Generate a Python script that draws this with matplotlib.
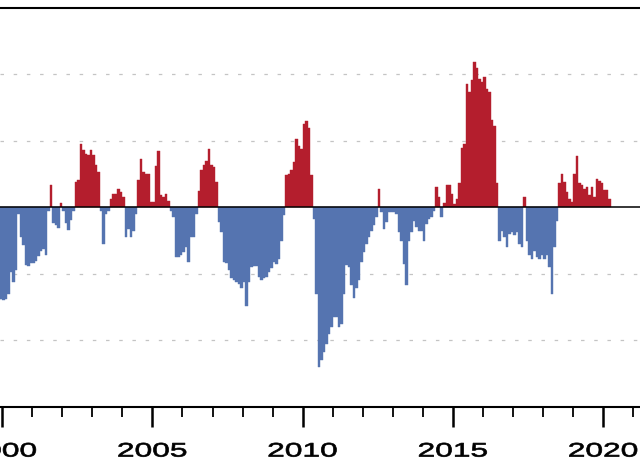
import matplotlib
matplotlib.use('Agg')
import matplotlib.pyplot as plt
import numpy as np
from matplotlib.patheffects import AbstractPathEffect
from matplotlib.transforms import Affine2D
from matplotlib.ticker import MultipleLocator

# indice mensuel, de nov. 1999 a mars 2020
v1999 = [-1.40, -1.38]  # nov, dec
v2000 = [-1.40, -1.38, -1.30, -0.97, -1.12, -0.95, -0.10, -0.45, -0.57, -0.87, -0.88, -0.84]
v2001 = [-0.83, -0.80, -0.73, -0.65, -0.62, -0.72, -0.05, 0.33, -0.24, -0.26, -0.31, 0.07]
v2002 = [-0.05, -0.24, -0.34, -0.19, -0.05, 0.38, 0.41, 0.96, 0.86, 0.81, 0.79, 0.86]
v2003 = [0.79, 0.63, 0.53, -0.06, -0.55, -0.10, -0.05, 0.13, 0.20, 0.20, 0.28, 0.23]
v2004 = [0.16, -0.45, -0.32, -0.45, -0.35, -0.10, 0.41, 0.73, 0.53, 0.50, 0.50, 0.08]
v2005 = [0.08, 0.62, 0.85, 0.18, 0.15, 0.20, 0.10, -0.05, -0.15, -0.75, -0.75, -0.72]
v2006 = [-0.67, -0.60, -0.82, -0.45, -0.45, -0.10, 0.25, 0.56, 0.63, 0.70, 0.88, 0.63]
v2007 = [0.60, 0.38, -0.22, -0.37, -0.82, -0.84, -0.95, -1.07, -1.10, -1.12, -1.15, -1.22]
v2008 = [-1.12, -1.48, -1.12, -0.90, -0.88, -0.88, -1.05, -1.10, -1.07, -1.05, -0.97, -0.92]
v2009 = [-0.82, -0.85, -0.77, -0.50, -0.12, 0.48, 0.50, 0.56, 0.68, 1.03, 0.93, 0.88]
v2010 = [1.26, 1.30, 1.20, 0.48, -0.17, -1.30, -2.40, -2.30, -2.18, -2.05, -1.90, -1.80]
v2011 = [-1.65, -1.65, -1.80, -1.75, -1.30, -0.87, -0.90, -1.17, -1.37, -1.22, -1.10, -0.82]
v2012 = [-0.67, -0.55, -0.45, -0.35, -0.27, -0.15, 0.28, -0.07, -0.32, -0.22, -0.07, -0.07]
v2013 = [-0.07, -0.10, -0.37, -0.50, -0.85, -1.17, -0.50, -0.37, -0.20, -0.30, -0.35, -0.35]
v2014 = [-0.50, -0.25, -0.17, -0.15, -0.05, 0.31, 0.16, -0.15, 0.06, 0.33, 0.33, 0.20]
v2015 = [0.05, 0.13, 0.36, 0.90, 0.96, 1.86, 1.73, 1.91, 2.19, 2.09, 1.93, 1.88]
v2016 = [1.96, 1.78, 1.73, 1.31, 1.23, 0.36, -0.50, -0.35, -0.45, -0.60, -0.40, -0.37]
v2017 = [-0.42, -0.37, -0.55, -0.60, 0.16, -0.50, -0.72, -0.77, -0.65, -0.75, -0.77, -0.72]
v2018 = [-0.77, -0.72, -0.90, -1.30, -0.60, -0.20, 0.36, 0.50, 0.38, 0.23, 0.13, 0.08]
v2019 = [0.50, 0.77, 0.36, 0.33, 0.28, 0.30, 0.18, 0.30, 0.15, 0.43, 0.40, 0.36]
v2020 = [0.26, 0.26, 0.13]

annees_labels = [2000, 2005, 2010, 2015, 2020]
grille = [-2, -1, 1, 2]

rouge = '#B41E2D'
bleu = '#5574B0'


class Etirement(AbstractPathEffect):
    """etire le texte horizontalement autour de son centre (et l'epaissit un peu)"""
    def __init__(self, sx, trait=0.5):
        super().__init__()
        self.sx = sx
        self.trait = trait

    def draw_path(self, renderer, gc, tpath, affine, rgbFace=None):
        ext = tpath.get_extents(affine)
        cx = 0.5*(ext.x0+ext.x1)
        aff = affine + Affine2D().translate(-cx, 0).scale(self.sx, 1).translate(cx, 0)
        gc0 = renderer.new_gc()
        gc0.copy_properties(gc)
        gc0.set_linewidth(self.trait)
        if rgbFace is not None:
            gc0.set_foreground(rgbFace)
        renderer.draw_path(gc0, tpath, aff, rgbFace)
        gc0.restore()


mei = np.array(v1999+v2000+v2001+v2002+v2003+v2004+v2005+v2006+v2007+v2008
               +v2009+v2010+v2011+v2012+v2013+v2014+v2015+v2016+v2017+v2018
               +v2019+v2020)
t = 1999+10/12+np.arange(len(mei))/12
couleurs = [rouge if v > 0 else bleu for v in mei]

plt.rcParams['lines.scale_dashes'] = False
fig = plt.figure(figsize=(6.4, 4.65), dpi=100)
ax = fig.add_axes([0, 1-406.7/465, 1, (406.7-8)/465])

for y in grille:
    ax.axhline(y, color='#C4C4C4', lw=0.9, ls=(0, (2.5, 7)), zorder=1)

ax.bar(t, mei, width=1/12, align='edge', color=couleurs, edgecolor=couleurs,
       linewidth=0.3, zorder=2)
ax.axhline(0, color='black', lw=1.1, zorder=3)

ax.set_xlim(1999.93, 2021.22)
ax.set_ylim(-3, 3)
ax.set_yticks([])
ax.spines['left'].set_visible(False)
ax.spines['right'].set_visible(False)
ax.spines['top'].set_linewidth(1.5)
ax.spines['bottom'].set_linewidth(1.5)

ax.set_xticks(annees_labels)
ax.xaxis.set_minor_locator(MultipleLocator(1))
ax.tick_params(axis='x', which='major', direction='out', length=14.6, width=1.8,
               pad=10.5, labelsize=14.1)
ax.tick_params(axis='x', which='minor', direction='out', length=7.4, width=1.3)
for lab in ax.get_xticklabels():
    lab.set_fontfamily(['Liberation Sans', 'DejaVu Sans'])
    lab.set_path_effects([Etirement(1.62)])

fig.savefig('out.png', dpi=100)
